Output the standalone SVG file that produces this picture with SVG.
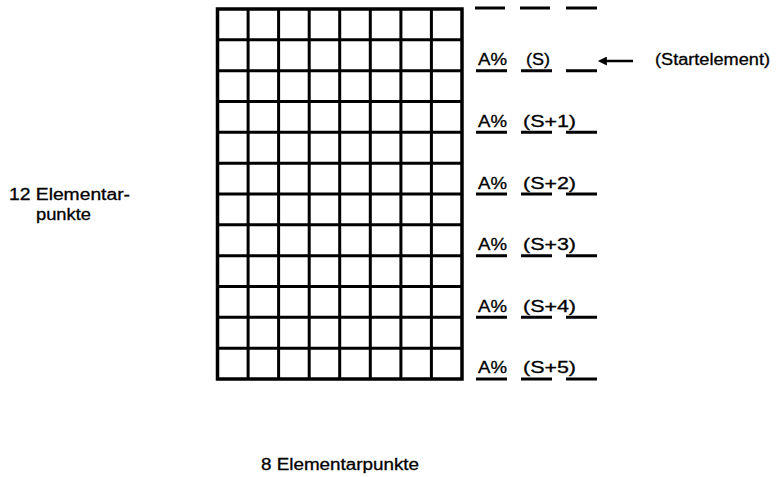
<svg xmlns="http://www.w3.org/2000/svg" width="779" height="477" viewBox="0 0 779 477">
<defs>
<style>
.t{font-family:"Liberation Sans",Arial,sans-serif;font-size:16px;fill:#000;stroke:#000;stroke-width:0.3}
.g{stroke:#000;stroke-width:3;fill:none}
.u{stroke:#000;stroke-width:3}
</style>
<marker id="ah" viewBox="0 0 10 10" refX="1" refY="5" markerWidth="4" markerHeight="3.6" orient="auto-start-reverse" markerUnits="strokeWidth">
<path d="M0,0 L10,5 L0,10 z" fill="#000"/>
</marker>
</defs>
<rect width="779" height="477" fill="#fff"/>
<g id="grid" class="g">
<rect x="217.5" y="9" width="244.5" height="370" stroke-width="3.5"/>
<path d="M248.1,9V379M278.6,9V379M309.2,9V379M339.7,9V379M370.3,9V379M400.9,9V379M431.4,9V379"/>
<path d="M217.5,39.8H462M217.5,70.7H462M217.5,101.5H462M217.5,132.3H462M217.5,163.2H462M217.5,194H462M217.5,224.8H462M217.5,255.7H462M217.5,286.5H462M217.5,317.3H462M217.5,348.2H462"/>
</g>
<g id="row0" class="u">
<path d="M475,8H505M520,8H550M566,8H597"/>
</g>
<g id="row1">
<path class="u" d="M476,70.7H507M521,70.7H552M566,70.7H597"/>
<text class="t" x="478" y="65" textLength="29" lengthAdjust="spacingAndGlyphs">A%</text>
<text class="t" x="526" y="65" textLength="24" lengthAdjust="spacingAndGlyphs">(S)</text>
</g>
<g id="row2">
<path class="u" d="M476,132.3H507M521,132.3H552M566,132.3H597"/>
<text class="t" x="478" y="127" textLength="29" lengthAdjust="spacingAndGlyphs">A%</text>
<text class="t" x="523" y="127" textLength="53" lengthAdjust="spacingAndGlyphs">(S+1)</text>
</g>
<g id="row3">
<path class="u" d="M476,194H507M521,194H552M566,194H597"/>
<text class="t" x="478" y="188.5" textLength="29" lengthAdjust="spacingAndGlyphs">A%</text>
<text class="t" x="523" y="188.5" textLength="53" lengthAdjust="spacingAndGlyphs">(S+2)</text>
</g>
<g id="row4">
<path class="u" d="M476,255.7H507M521,255.7H552M566,255.7H597"/>
<text class="t" x="478" y="250" textLength="29" lengthAdjust="spacingAndGlyphs">A%</text>
<text class="t" x="523" y="250" textLength="53" lengthAdjust="spacingAndGlyphs">(S+3)</text>
</g>
<g id="row5">
<path class="u" d="M476,317.3H507M521,317.3H552M566,317.3H597"/>
<text class="t" x="478" y="311.5" textLength="29" lengthAdjust="spacingAndGlyphs">A%</text>
<text class="t" x="523" y="311.5" textLength="53" lengthAdjust="spacingAndGlyphs">(S+4)</text>
</g>
<g id="row6">
<path class="u" d="M476,379H507M521,379H552M566,379H597"/>
<text class="t" x="478" y="373" textLength="29" lengthAdjust="spacingAndGlyphs">A%</text>
<text class="t" x="523" y="373" textLength="53" lengthAdjust="spacingAndGlyphs">(S+5)</text>
</g>
<g id="startlabel">
<text class="t" x="655" y="65" textLength="115" lengthAdjust="spacingAndGlyphs">(Startelement)</text>
</g>
<g id="connectors">
<line x1="633" y1="61" x2="606" y2="61" stroke="#000" stroke-width="2.5" marker-end="url(#ah)"/>
</g>
<g id="leftlabel">
<text class="t" x="9" y="200" textLength="121" lengthAdjust="spacingAndGlyphs">12 Elementar-</text>
<text class="t" x="36" y="220" textLength="55" lengthAdjust="spacingAndGlyphs">punkte</text>
</g>
<g id="bottomlabel">
<text class="t" x="261" y="470" textLength="158" lengthAdjust="spacingAndGlyphs">8 Elementarpunkte</text>
</g>
</svg>
